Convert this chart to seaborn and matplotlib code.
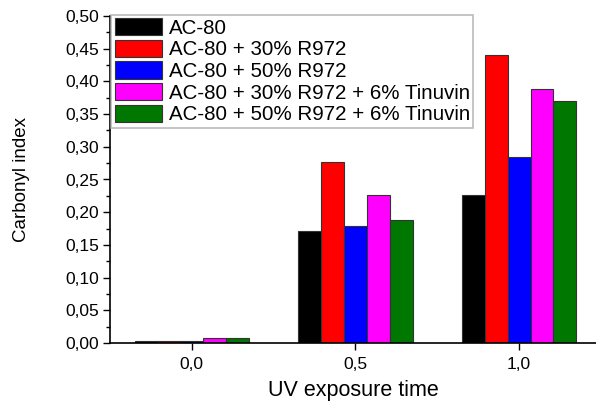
import matplotlib
matplotlib.use('Agg')
from matplotlib import pyplot as plt
from matplotlib.ticker import MultipleLocator, FuncFormatter
import seaborn as sns
import pandas as pd

# data
times = [0.0, 0.5, 1.0]
series = ['AC-80', 'AC-80 + 30% R972', 'AC-80 + 50% R972',
          'AC-80 + 30% R972 + 6% Tinuvin', 'AC-80 + 50% R972 + 6% Tinuvin']
ac80 = [0.003, 0.172, 0.227]
r30 = [0.003, 0.277, 0.440]
r50 = [0.003, 0.179, 0.284]
r30_tin = [0.007, 0.227, 0.389]
r50_tin = [0.008, 0.188, 0.370]
colors = ['#000000', '#ff0000', '#0000ff', '#ff00ff', '#007700']

rows = []
for name, vals in zip(series, [ac80, r30, r50, r30_tin, r50_tin]):
    for t, v in zip(times, vals):
        rows.append({'time': t, 'series': name, 'value': v})
df = pd.DataFrame(rows)

sns.set_style('white', {'text.color': 'black', 'axes.labelcolor': 'black',
                        'xtick.color': 'black', 'ytick.color': 'black'})
plt.rcParams['font.family'] = ['Liberation Sans', 'DejaVu Sans']

fig = plt.figure(figsize=(5.96, 4.03), dpi=100)
ax = fig.add_axes([110 / 596, 1 - 343 / 403, 1 - 110 / 596, (343 - 16) / 403])

sns.barplot(data=df, x='time', y='value', hue='series', native_scale=True,
            palette=colors, saturation=1, width=0.7, edgecolor='#333333',
            linewidth=0.8, ax=ax)

ax.set_xlim(-0.25, 1.235)
ax.set_ylim(0, 0.5)
ax.set_xticks(times)
ax.set_xticklabels(['0,0', '0,5', '1,0'], fontsize=12.5)
ax.yaxis.set_major_locator(MultipleLocator(0.05))
ax.yaxis.set_minor_locator(MultipleLocator(0.025))
ax.yaxis.set_major_formatter(FuncFormatter(lambda v, p: f'{v:.2f}'.replace('.', ',')))
ax.tick_params(axis='y', which='major', direction='out', length=5, width=1,
               labelsize=12.5, left=True, pad=3, colors='black')
ax.tick_params(axis='y', which='minor', direction='out', length=3, width=1,
               left=True, colors='black')
ax.tick_params(axis='x', which='major', direction='out', length=5, width=1,
               bottom=True, pad=5, colors='black')

for side in ['top', 'right']:
    ax.spines[side].set_visible(False)
for side in ['left', 'bottom']:
    ax.spines[side].set_color('black')
    ax.spines[side].set_linewidth(1.2)

ax.set_xlabel('UV exposure time', fontsize=15.5, labelpad=6, color='black')
ax.set_ylabel('Carbonyl index', fontsize=13.5, labelpad=25, color='black')

leg = ax.legend(loc='upper left', bbox_to_anchor=(0.003, 1.003), fontsize=14.8,
                frameon=True, fancybox=False, edgecolor='#aaaaaa',
                handlelength=2.3, handleheight=0.9, handletextpad=0.35,
                labelspacing=0.1, borderpad=0.15, borderaxespad=0,
                labelcolor='black')
leg.get_frame().set_linewidth(1.2)

fig.savefig('out.png', dpi=100)
